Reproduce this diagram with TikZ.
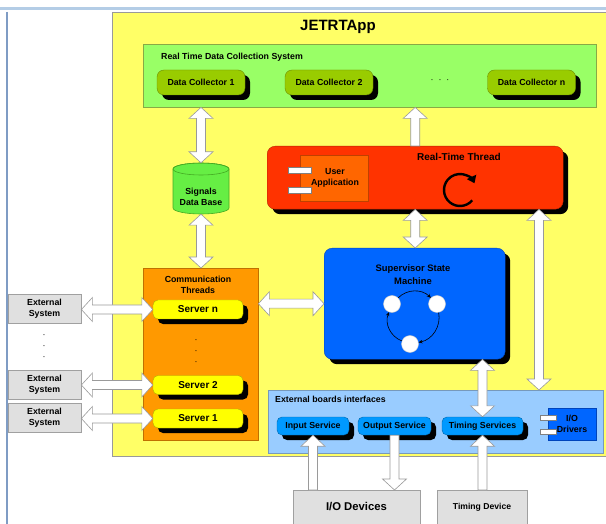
\documentclass[tikz,border=0pt]{standalone}
\usepackage{fontspec}
\setmainfont{Liberation Sans}
\usetikzlibrary{shadows,arrows.meta,calc}
\definecolor{appy}{HTML}{FFFF66}
\definecolor{rtgreen}{HTML}{99FF66}
\definecolor{rtgreenD}{HTML}{88AA44}
\definecolor{dcgreen}{HTML}{99CC00}
\definecolor{dcgreenD}{HTML}{6E8C00}
\definecolor{dbgreen}{HTML}{66EE44}
\definecolor{dbgreenD}{HTML}{44AA22}
\definecolor{rtred}{HTML}{FF3300}
\definecolor{rtredD}{HTML}{B02400}
\definecolor{uaor}{HTML}{FF6600}
\definecolor{uaorD}{HTML}{C04000}
\definecolor{supblue}{HTML}{0066FF}
\definecolor{supblueD}{HTML}{0044BB}
\definecolor{commor}{HTML}{FF9900}
\definecolor{commorD}{HTML}{C07000}
\definecolor{srvy}{HTML}{FFFF00}
\definecolor{srvyD}{HTML}{B0B000}
\definecolor{extg}{HTML}{E0E0E0}
\definecolor{extgD}{HTML}{A0A0A0}
\definecolor{ebblue}{HTML}{99CCFF}
\definecolor{ebblueD}{HTML}{7799BB}
\definecolor{svcblue}{HTML}{0099FF}
\definecolor{svcblueD}{HTML}{0066AA}
\definecolor{framebl}{HTML}{B4CDE6}
\definecolor{framel}{HTML}{7F9CC4}
\definecolor{arrD}{HTML}{9A9A9A}

% block arrow between two points: #3 = 1 (head at end) or 2 (both ends)
\newcommand\BlkArrow[3]{%
  \path let \p1=#1, \p2=#2 in \pgfextra{%
    \pgfmathsetmacro\bAangL{atan2(\y2-\y1,\x2-\x1)}%
    \pgfmathsetmacro\bAlenL{veclen(\x2-\x1,\y2-\y1)}%
    \pgfmathsetmacro\bAmidL{\bAlenL-11}%
    \xdef\bAang{\bAangL}\xdef\bAlen{\bAlenL}\xdef\bAm{\bAmidL}%
    \xdef\bAx{\x1}\xdef\bAy{\y1}};
  \begin{scope}[shift={(\bAx,\bAy)}, rotate=\bAang]
  \ifnum#3=2
    \draw[blkarr] (0pt,0pt) -- (11pt,12pt) -- (11pt,4.5pt) -- (\bAm pt,4.5pt)
      -- (\bAm pt,12pt) -- (\bAlen pt,0pt) -- (\bAm pt,-12pt) -- (\bAm pt,-4.5pt)
      -- (11pt,-4.5pt) -- (11pt,-12pt) -- cycle;
  \else
    \draw[blkarr] (0pt,4.5pt) -- (\bAm pt,4.5pt) -- (\bAm pt,12pt) -- (\bAlen pt,0pt)
      -- (\bAm pt,-12pt) -- (\bAm pt,-4.5pt) -- (0pt,-4.5pt) -- cycle;
  \fi
  \end{scope}}

\begin{document}
\begin{tikzpicture}[x=1pt,y=-1pt,
  every node/.style={font=\fontsize{8.8}{11}\selectfont\bfseries, inner sep=0pt, align=center},
  shd/.style={drop shadow={shadow xshift=5pt,shadow yshift=-5pt,opacity=1,fill=black}},
  blkarr/.style={draw=arrD, fill=white, line width=0.6pt, line join=miter},
  dcbox/.style={draw=dcgreenD, fill=dcgreen, rounded corners=7pt, minimum width=88, minimum height=25, shd},
  srv/.style={draw=srvyD, fill=srvy, rounded corners=5pt, minimum width=90, minimum height=19, shd, font=\fontsize{10}{12}\selectfont\bfseries},
  extbox/.style={draw=extgD, fill=extg, line width=0.8pt, minimum width=73, minimum height=29},
  svc/.style={draw=svcblueD, fill=svcblue, rounded corners=5pt, minimum height=18, shd},
  comp/.style={draw=gray, fill=white, line width=0.5pt},
  stnode/.style={circle, fill=white, draw=gray!40, minimum size=17},
  starr/.style={-{Stealth[length=4pt,width=3.5pt]}, line width=0.6pt, bend left=45}]
\useasboundingbox (0,0) rectangle (606,524);
\fill[white] (0,0) rectangle (606,524);

% frame decorations
\fill[framebl] (0,7) rectangle (606,10);
\draw[framel, line width=1.5pt] (7,12) -- (7,524);

% application container
\node[draw=gray!80, fill=appy, line width=0.8pt, minimum width=500, minimum height=444, anchor=north west] (app) at (112,12) {};
\node[font=\fontsize{15}{17}\selectfont\bfseries] (apptitle) at (338,27) {JETRTApp};

% real time data collection system
\node[draw=rtgreenD, fill=rtgreen, minimum width=453, minimum height=63, anchor=north west] (rtdc) at (143,44) {};
\node[anchor=west] (rtdct) at (161,57) {Real Time Data Collection System};
\node[dcbox] (dc1) at (201,82.5) {Data Collector 1};
\node[dcbox] (dc2) at (329,82.5) {Data Collector 2};
\node[font=\fontsize{8.8}{11}\selectfont] (dcdots) at (440,81) {\textperiodcentered\ \ \textperiodcentered\ \ \textperiodcentered};
\node[dcbox] (dcn) at (531.5,82.5) {Data Collector n};

% signals data base
\node[minimum width=56, minimum height=51] (db) at (201,188.5) {};
\filldraw[draw=dbgreenD, fill=dbgreen, line width=0.6pt] (173,169) -- (173,208)
  arc[start angle=180, end angle=360, x radius=28pt, y radius=6pt] -- (229,169)
  arc[start angle=0, end angle=180, x radius=28pt, y radius=6pt] -- cycle;
\draw[dbgreenD, line width=0.6pt] (201,169) ellipse [x radius=28pt, y radius=6pt];
\node (dbt) at (201,197) {Signals\\Data Base};

% real-time thread
\node[draw=rtredD, fill=rtred, rounded corners=8pt, minimum width=296, minimum height=63, anchor=north west, shd] (rtt) at (267,146) {};
\node[font=\fontsize{10}{12}\selectfont\bfseries] (rttt) at (459,157) {Real-Time Thread};
\node[draw=uaorD, fill=uaor, minimum width=68, minimum height=46, anchor=north west] (uapp) at (300,155) {};
\node (uappt) at (335,178) {User\\Application};
\node[comp, minimum width=23, minimum height=6] (uc1) at (299.5,170) {};
\node[comp, minimum width=23, minimum height=6] (uc2) at (299.5,190) {};
\coordinate (cyc) at (460,190);
\draw[line width=2.4pt, -{Triangle[length=7pt,width=10pt]}] ($(cyc)+(320:16pt)$)
  arc[start angle=320, end angle=25, radius=16pt];

% supervisor state machine
\node[draw=supblueD, fill=supblue, rounded corners=8pt, minimum width=181, minimum height=111, anchor=north west, shd] (sup) at (324,248) {};
\node[font=\fontsize{9.4}{13}\selectfont\bfseries] (supt) at (413,274.5) {Supervisor State\\Machine};
\node[stnode] (s1) at (392,304) {};
\node[stnode] (s2) at (437,304) {};
\node[stnode] (s3) at (410,344) {};
\draw[starr] (s1) to (s2);
\draw[starr] (s2) to (s3);
\draw[starr] (s3) to (s1);

% communication threads
\node[draw=commorD, fill=commor, minimum width=115, minimum height=172, anchor=north west] (comm) at (143,268) {};
\node[font=\fontsize{8.8}{10.5}\selectfont\bfseries] (commt) at (198,285) {Communication\\Threads};
\node[srv] (srvn) at (198,309.5) {Server n};
\node[srv] (srv2) at (198,385) {Server 2};
\node[srv] (srv1) at (198,418.5) {Server 1};
\node[font=\fontsize{8.8}{11}\selectfont] (cdots) at (196,352) {\textperiodcentered\\\textperiodcentered\\\textperiodcentered};

% external systems
\node[extbox] (ext1) at (44.5,308.5) {External\\System};
\node[extbox] (ext2) at (44.5,385) {External\\System};
\node[extbox] (ext3) at (44.5,417.5) {External\\System};
\node[font=\fontsize{8.8}{11}\selectfont] (edots) at (44,347) {\textperiodcentered\\\textperiodcentered\\\textperiodcentered};

% external boards interfaces
\node[draw=ebblueD, fill=ebblue, minimum width=335, minimum height=63, anchor=north west] (extb) at (268,390) {};
\node[anchor=west] (extbt) at (275,399) {External boards interfaces};
\node[svc, minimum width=72] (ins) at (313,426) {Input Service};
\node[svc, minimum width=73] (outs) at (394.5,426) {Output Service};
\node[svc, minimum width=81] (tims) at (482.5,426) {Timing Services};
\node[draw=supblueD, fill=supblue, minimum width=48, minimum height=32, anchor=north west] (iodrv) at (548,408) {};
\node (iodrvt) at (572,423.5) {I/O\\Drivers};
\node[comp, minimum width=16, minimum height=5] (dc1c) at (548,417.5) {};
\node[comp, minimum width=16, minimum height=5] (dc2c) at (548,431.5) {};

% devices
\node[draw=extgD, fill=extg, line width=0.8pt, minimum width=127, minimum height=50, anchor=north west] (iodev) at (293,490) {};
\node[font=\fontsize{11.3}{13}\selectfont\bfseries] (iodevt) at (356.5,507) {I/O Devices};
\node[draw=extgD, fill=extg, line width=0.8pt, minimum width=90, minimum height=50, anchor=north west] (timdev) at (437,490) {};
\node[font=\fontsize{8.6}{10}\selectfont\bfseries] (timdevt) at (482,507) {Timing Device};

% helper coordinate
\coordinate (rx) at (539,0);

% block arrows
\BlkArrow{(db.north)}{(db.north |- rtdc.south)}{2}
\BlkArrow{(rtt.north)}{(rtt.north |- rtdc.south)}{1}
\BlkArrow{(db.south)}{(db.south |- comm.north)}{2}
\BlkArrow{(rtt.south)}{(rtt.south |- sup.north)}{2}
\BlkArrow{(rx |- rtt.south)}{(rx |- extb.north)}{2}
\BlkArrow{(comm.east |- sup.west)}{(sup.west)}{2}
\BlkArrow{(tims.north |- sup.south)}{(tims.north)}{2}
\BlkArrow{(ins.south |- iodev.north)}{(ins.south)}{1}
\BlkArrow{(outs.south)}{(outs.south |- iodev.north)}{1}
\BlkArrow{(tims.south |- timdev.north)}{(tims.south)}{1}
\BlkArrow{(ext1.east |- srvn.west)}{(srvn.west)}{2}
\BlkArrow{(ext2.east |- srv2.west)}{(srv2.west)}{2}
\BlkArrow{(ext3.east |- srv1.west)}{(srv1.west)}{2}
\end{tikzpicture}
\end{document}
